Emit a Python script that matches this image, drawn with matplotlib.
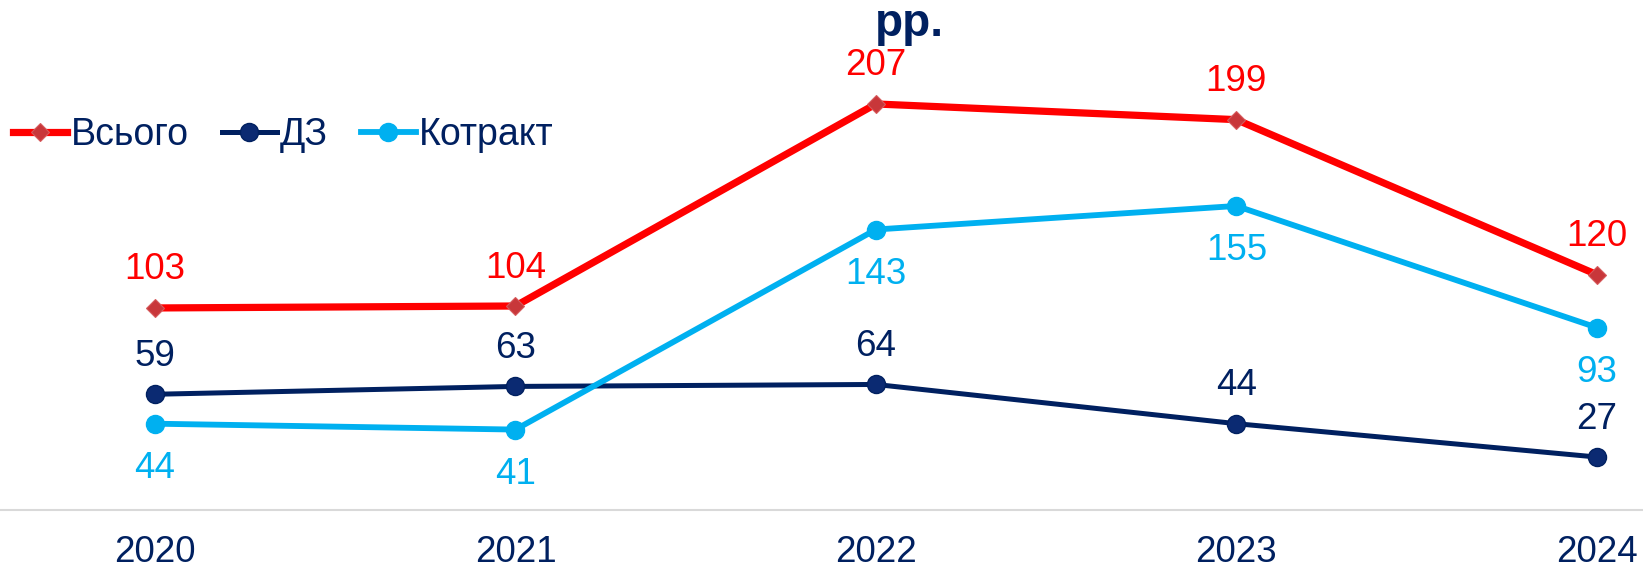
import matplotlib
matplotlib.use("Agg")
import matplotlib.pyplot as plt

years = ["2020", "2021", "2022", "2023", "2024"]
total = [103, 104, 207, 199, 120]
dz = [59, 63, 64, 44, 27]
contract = [44, 41, 143, 155, 93]

RED = "#FF0000"
NAVY = "#002060"
LBLUE = "#00B0F0"

plt.rcParams["font.family"] = ["Liberation Sans", "DejaVu Sans"]

W, H = 1643, 575
fig = plt.figure(figsize=(W / 100, H / 100), dpi=100)
ax = fig.add_axes([0, 65 / H, 1, 1 - 65 / H])

x = list(range(len(years)))
ax.plot(x, total, color=RED, lw=5.2, marker="D", markersize=9.5,
        markerfacecolor="#C8373A", markeredgecolor="#D65A5C", markeredgewidth=0.8,
        label="Всього", zorder=3)
ax.plot(x, dz, color=NAVY, lw=3.6, marker="o", markersize=13,
        markerfacecolor="#0B2A72", markeredgecolor=NAVY,
        label="ДЗ", zorder=3)
ax.plot(x, contract, color=LBLUE, lw=4.2, marker="o", markersize=13,
        markerfacecolor=LBLUE, markeredgecolor=LBLUE,
        label="Котракт", zorder=3)

fs = 26.5
for xi, v in zip(x, total):
    ax.annotate(str(v), (xi, v), xytext=(0, 38), textcoords="offset pixels",
                ha="center", va="center", fontsize=fs, color=RED)
for xi, v in zip(x, dz):
    ax.annotate(str(v), (xi, v), xytext=(0, 38), textcoords="offset pixels",
                ha="center", va="center", fontsize=fs, color=NAVY)
for xi, v in zip(x, contract):
    ax.annotate(str(v), (xi, v), xytext=(0, -45), textcoords="offset pixels",
                ha="center", va="center", fontsize=fs, color=LBLUE)

ax.set_xlim(-0.43, 4.128)
ax.set_ylim(0, 260)
ax.set_xticks(x)
ax.set_xticklabels(years, fontsize=fs, color=NAVY)
ax.tick_params(axis="x", length=0, pad=18)
ax.set_yticks([])
for s in ["top", "left", "right"]:
    ax.spines[s].set_visible(False)
ax.spines["bottom"].set_color("#D9D9D9")
ax.spines["bottom"].set_linewidth(1.5)
for sp in ax.spines.values():
    sp.set_clip_on(False)

fig.text(909 / W, 1 - 36 / H, "рр.", ha="center", va="baseline",
         fontsize=33, fontweight="bold", color=NAVY)

leg = fig.legend(loc="center left", bbox_to_anchor=(13 / W, 1 - 135 / H),
                 ncol=3, frameon=False, fontsize=27, handlelength=1.45,
                 handletextpad=0.08, columnspacing=0.9, borderpad=0,
                 borderaxespad=0)
for t in leg.get_texts():
    t.set_color(NAVY)

fig.savefig("out.png", dpi=100)
